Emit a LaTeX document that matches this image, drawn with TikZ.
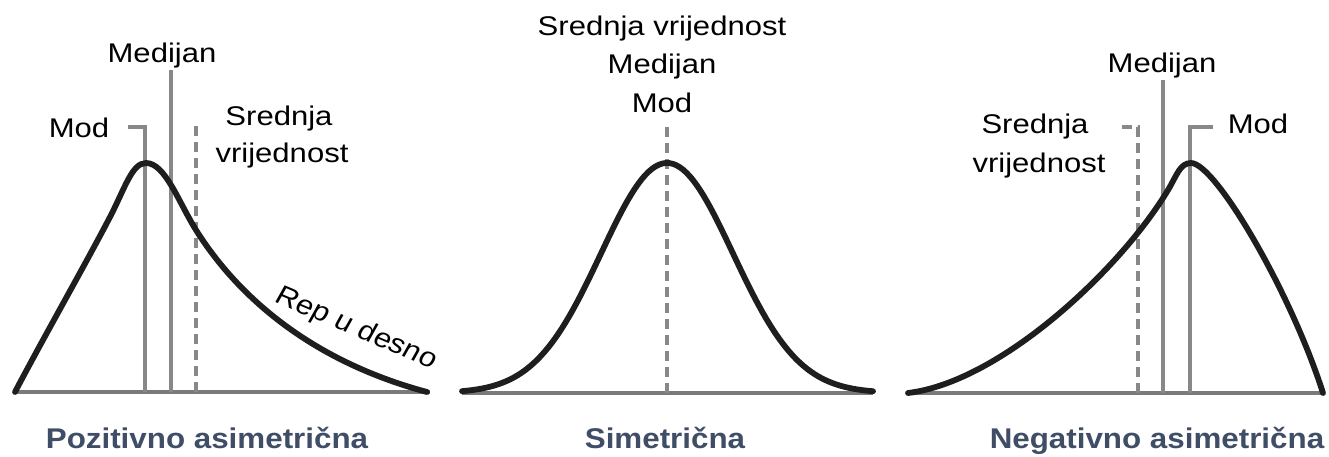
\documentclass[tikz,border=0pt]{standalone}
\usepackage{fontspec}
\setmainfont{Liberation Sans}
\definecolor{curvec}{HTML}{1E1E1E}
\definecolor{linec}{HTML}{888888}
\definecolor{basec}{HTML}{7A7A7A}
\definecolor{titlec}{HTML}{3F4E66}
\tikzset{
  curve/.style={draw=curvec, line width=5.8pt, line cap=round, line join=round},
  mline/.style={draw=linec, line width=3.2pt},
  dline/.style={draw=linec, line width=3.2pt, dash pattern=on 10pt off 6pt},
  base/.style={draw=basec, line width=3.2pt},
  lbl/.style={anchor=base, inner sep=0pt, font=\fontsize{27}{32}\selectfont, xscale=1.15, text=black},
  ttl/.style={anchor=base, inner sep=0pt, font=\bfseries\fontsize{28.5}{34}\selectfont, xscale=1.1, text=titlec}
}
\begin{document}
\begin{tikzpicture}[x=1pt,y=-1pt]
\useasboundingbox (0,0) rectangle (1329,456);
\fill[white] (0,0) rectangle (1329,456);
% ---------- panel 1 ----------
\coordinate (b1l) at (15,392); \coordinate (b1r) at (430,392);
\draw[base] (b1l) -- (b1r);
\coordinate (m1b) at (145,392); \coordinate (m1t) at (145,127); \coordinate (m1e) at (128,127);
\draw[mline] (m1b) -- (m1t) -- (m1e);
\coordinate (d1b) at (171,392); \coordinate (d1t) at (171,70);
\draw[mline] (d1b) -- (d1t);
\coordinate (s1b) at (196,392); \coordinate (s1t) at (196,125);
\draw[dline] (s1b) -- (s1t);
\draw[curve] (15,392) .. controls (45,335) and (85,265) .. (110,217)
  .. controls (125,188) and (132,163) .. (146,163)
  .. controls (165,163) and (178,201) .. (196,230)
  .. controls (240,300) and (315,362) .. (427,392);
\node[lbl] (med1) at (162,62) {Medijan};
\node[lbl] (mod1) at (79,137) {Mod};
\node[lbl] (sr1) at (279,125) {Srednja};
\node[lbl] (vr1) at (282,162) {vrijednost};
\node[lbl, anchor=center, rotate=-26] (rep) at (356,329) {Rep u desno};
\node[ttl] (t1) at (207,448) {Pozitivno asimetrična};
% ---------- panel 2 ----------
\coordinate (b2l) at (462,393); \coordinate (b2r) at (873,393);
\draw[base] (b2l) -- (b2r);
\coordinate (s2b) at (667,393); \coordinate (s2t) at (667,125);
\draw[dline] (s2b) -- (s2t);
\draw[curve] plot[domain=462:873, samples=120] (\x, {393-230*exp(-0.5*((\x-667)/66)^2)});
\node[lbl] (sv2) at (662,35) {Srednja vrijednost};
\node[lbl] (med2) at (662,73) {Medijan};
\node[lbl] (mod2) at (662,112) {Mod};
\node[ttl] (t2) at (665,448) {Simetrična};
% ---------- panel 3 ----------
\coordinate (b3l) at (908,393); \coordinate (b3r) at (1325,393);
\draw[base] (b3l) -- (b3r);
\coordinate (m3b) at (1190,393); \coordinate (m3t) at (1190,127); \coordinate (m3e) at (1213,127);
\draw[mline] (m3b) -- (m3t) -- (m3e);
\coordinate (d3b) at (1163,393); \coordinate (d3t) at (1163,80);
\draw[mline] (d3b) -- (d3t);
\coordinate (s3b) at (1138,393); \coordinate (s3t) at (1138,127); \coordinate (s3e) at (1117,127);
\draw[dline] (s3b) -- (s3t) -- (s3e);
\draw[curve] (908,393) .. controls (1000,382) and (1120,270) .. (1168,190)
  .. controls (1177,175) and (1180,163) .. (1191,163)
  .. controls (1215,163) and (1290,290) .. (1323,393);
\node[lbl] (med3) at (1162,72) {Medijan};
\node[lbl] (mod3) at (1258,133) {Mod};
\node[lbl] (sr3) at (1035,133) {Srednja};
\node[lbl] (vr3) at (1039,172) {vrijednost};
\node[ttl] (t3) at (1157,448) {Negativno asimetrična};
\end{tikzpicture}
\end{document}
